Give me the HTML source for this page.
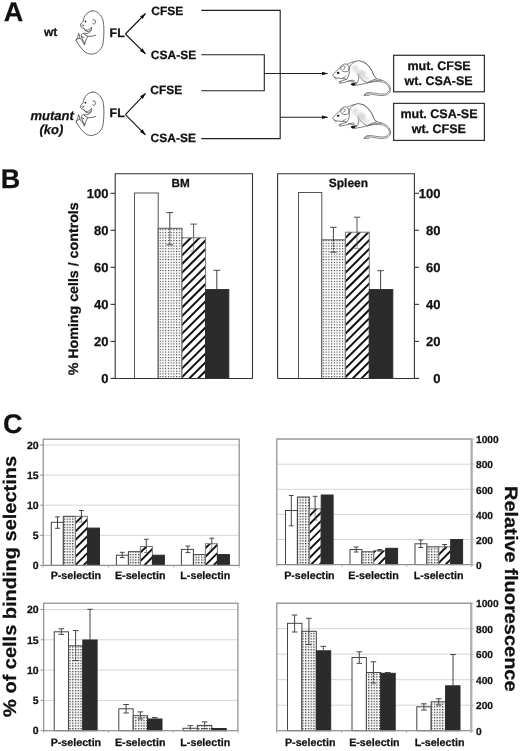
<!DOCTYPE html>
<html><head><meta charset="utf-8"><title>Figure</title>
<style>html,body{margin:0;padding:0;background:#fff;}svg{display:block;filter:grayscale(1);font-family:"Liberation Sans",sans-serif;font-weight:bold;}text{stroke:#111;stroke-width:.25px;text-rendering:geometricPrecision;}</style>
</head><body>
<svg width="520" height="751" viewBox="0 0 520 751" font-family="Liberation Sans, sans-serif" font-weight="bold">
<defs>
<pattern id="dotB" x="159.7" y="229.15" width="2.72" height="2.72" patternUnits="userSpaceOnUse"><rect width="2.72" height="2.72" fill="#fff"/><rect x="0" y="0" width="1.15" height="1.15" fill="#3a3a3a"/></pattern>
<pattern id="dotC" x="63.95" y="518.55" width="2.74" height="2.72" patternUnits="userSpaceOnUse"><rect width="2.74" height="2.72" fill="#fff"/><rect x="0" y="0" width="1.3" height="1.3" fill="#303030"/></pattern>
<marker id="ah" markerWidth="8" markerHeight="6" refX="6" refY="3" orient="auto" markerUnits="userSpaceOnUse"><path d="M0,1.1 L6.5,3 L0,4.9 Z" fill="#111"/></marker>
<filter id="bl" x="-50%" y="-50%" width="200%" height="200%"><feGaussianBlur stdDeviation="9"/></filter>
</defs>
<rect width="520" height="751" fill="#fff"/>
<text x="3.7" y="20.9" font-size="27" text-anchor="start" fill="#111" >A</text>
<text x="0.7" y="187.8" font-size="27" text-anchor="start" fill="#111" >B</text>
<text x="2.9" y="432.7" font-size="27" text-anchor="start" fill="#111" >C</text>
<text x="44" y="36" font-size="12" text-anchor="start" fill="#111" >wt</text>
<text x="30.4" y="120.2" font-size="13" text-anchor="start" fill="#111" font-style="italic">mutant</text>
<text x="39.4" y="134.1" font-size="13" text-anchor="start" fill="#111" font-style="italic">(ko)</text>
<text x="109.6" y="37.0" font-size="12.4" text-anchor="start" fill="#111" >FL</text>
<text x="151.3" y="15.2" font-size="12" text-anchor="start" fill="#111" >CFSE</text>
<text x="150.8" y="58.8" font-size="12" text-anchor="start" fill="#111" >CSA-SE</text>
<line x1="125.4" y1="34.0" x2="145.5" y2="13.5" stroke="#111" stroke-width="1.1" marker-end="url(#ah)"/>
<line x1="125.4" y1="34.0" x2="145.5" y2="53.8" stroke="#111" stroke-width="1.1" marker-end="url(#ah)"/>
<text x="109.6" y="116.8" font-size="12.4" text-anchor="start" fill="#111" >FL</text>
<text x="150.3" y="94.1" font-size="12" text-anchor="start" fill="#111" >CFSE</text>
<text x="150.6" y="141.5" font-size="12" text-anchor="start" fill="#111" >CSA-SE</text>
<line x1="125.4" y1="114.6" x2="145.5" y2="93.3" stroke="#111" stroke-width="1.1" marker-end="url(#ah)"/>
<line x1="125.4" y1="114.6" x2="145.5" y2="134.9" stroke="#111" stroke-width="1.1" marker-end="url(#ah)"/>
<g fill="none" stroke="#222" stroke-width="1.1">
<path d="M201.3,10.4 H280.2 V138.6 H201.3"/>
<path d="M201.3,54.8 H264.3 V90.7 H201.3"/>
</g>
<line x1="264.3" y1="73.5" x2="327.5" y2="73.5" stroke="#222" stroke-width="1.1" marker-end="url(#ah)"/>
<line x1="280.2" y1="117.3" x2="327.5" y2="117.3" stroke="#222" stroke-width="1.1" marker-end="url(#ah)"/>
<rect x="393.6" y="55.3" width="90.8" height="36.5" fill="#fff" stroke="#333" stroke-width="1.25"/>
<rect x="393.6" y="103.4" width="90.8" height="37.0" fill="#fff" stroke="#333" stroke-width="1.25"/>
<text x="439" y="69.8" font-size="12.5" text-anchor="middle" fill="#111" >mut. CFSE</text>
<text x="438.6" y="84.8" font-size="12.5" text-anchor="middle" fill="#111" >wt. CSA-SE</text>
<text x="439" y="117.7" font-size="12.5" text-anchor="middle" fill="#111" >mut. CSA-SE</text>
<text x="438.8" y="132.5" font-size="12.5" text-anchor="middle" fill="#111" >wt. CFSE</text>
<g transform="translate(70,5) scale(0.0769)" fill="none" stroke="#3a3a3a" stroke-width="10" stroke-linecap="round" stroke-linejoin="round">
<path d="M290,75 C345,72 400,115 428,195 C445,260 445,400 428,510 C410,585 345,640 270,640 C215,635 175,602 136,548 C112,514 92,488 80,465"/>
<path d="M290,75 C240,80 200,120 182,165 C175,190 172,205 170,218 C155,228 138,240 135,262 C135,285 155,300 178,300 C182,312 192,322 205,326 C235,332 265,315 282,288"/>
<path d="M182,308 C195,335 215,348 242,346 C262,342 275,328 282,300"/>
<ellipse cx="201" cy="214" rx="11" ry="13" fill="#222" stroke="none"/>
<ellipse cx="166" cy="266" rx="12" ry="10" stroke-width="7"/>
<path d="M298,192 C318,185 336,200 332,225 C328,245 310,255 296,242"/>
<path d="M276,325 C268,345 255,358 238,366 C225,372 205,372 185,366"/>
<path d="M335,392 C300,405 265,412 232,406 C212,400 195,388 178,372 C165,368 150,378 148,392 C148,408 160,418 178,420"/>
<path d="M112,368 C108,395 100,425 82,452 C100,440 115,432 128,432 C150,445 170,480 188,520 C195,490 205,450 230,410"/>
<path d="M122,385 C126,400 128,415 128,432"/>
<path d="M150,410 C158,440 170,468 190,498"/>
<path d="M82,452 C82,458 80,462 80,465"/>
</g>
<g transform="translate(70,86.3) scale(0.0769)" fill="none" stroke="#3a3a3a" stroke-width="10" stroke-linecap="round" stroke-linejoin="round">
<path d="M290,75 C345,72 400,115 428,195 C445,260 445,400 428,510 C410,585 345,640 270,640 C215,635 175,602 136,548 C112,514 92,488 80,465"/>
<path d="M290,75 C240,80 200,120 182,165 C175,190 172,205 170,218 C155,228 138,240 135,262 C135,285 155,300 178,300 C182,312 192,322 205,326 C235,332 265,315 282,288"/>
<path d="M182,308 C195,335 215,348 242,346 C262,342 275,328 282,300"/>
<ellipse cx="201" cy="214" rx="11" ry="13" fill="#222" stroke="none"/>
<ellipse cx="166" cy="266" rx="12" ry="10" stroke-width="7"/>
<path d="M298,192 C318,185 336,200 332,225 C328,245 310,255 296,242"/>
<path d="M276,325 C268,345 255,358 238,366 C225,372 205,372 185,366"/>
<path d="M335,392 C300,405 265,412 232,406 C212,400 195,388 178,372 C165,368 150,378 148,392 C148,408 160,418 178,420"/>
<path d="M112,368 C108,395 100,425 82,452 C100,440 115,432 128,432 C150,445 170,480 188,520 C195,490 205,450 230,410"/>
<path d="M122,385 C126,400 128,415 128,432"/>
<path d="M150,410 C158,440 170,468 190,498"/>
<path d="M82,452 C82,458 80,462 80,465"/>
</g>
<g transform="translate(328,55) scale(0.1269)" fill="none" stroke="#444" stroke-width="5.5" stroke-linecap="round" stroke-linejoin="round">

<path d="M150,75 C185,52 240,40 285,56 C325,78 348,125 362,162 C370,180 385,190 420,198 C460,208 490,235 494,270 C494,300 470,318 430,320 C390,322 350,306 318,306 C300,307 290,312 284,318 C295,320 310,318 325,318" fill="none" stroke-width="5"/>
<path d="M420,198 C370,200 335,210 310,220 C345,210 390,206 425,212 C460,220 482,245 484,270 C484,292 465,306 430,308 C395,308 350,296 318,296 C300,298 290,306 284,318" fill="none" stroke-width="5"/>
<path d="M38,158 C48,142 66,124 86,110 C92,104 96,98 100,95 C104,80 122,66 146,72 C160,78 168,96 166,118 C168,90 180,60 232,46 C280,44 322,82 346,126 C356,150 362,172 384,188 C350,196 325,210 310,220 C285,228 255,232 232,236 C220,242 205,240 188,234 C196,226 210,222 228,222 C205,212 180,204 160,206 C140,214 115,222 92,222 C84,218 86,210 96,208 C112,204 130,198 148,190 C120,186 95,184 78,182 C62,182 48,176 42,168 Z" fill="#fff"/>
<path d="M110,92 C122,80 136,86 134,100 C132,110 126,114 120,112"/>
<path d="M100,95 C98,110 106,124 120,130 C136,134 150,132 160,124"/>
<path d="M166,118 C172,140 166,165 150,188"/>
<path d="M140,165 C136,172 128,178 118,180"/>
<path d="M228,222 C242,205 246,185 238,150"/>
<path d="M238,150 C250,180 275,205 308,218"/>
<path d="M160,206 C175,200 190,198 205,200"/>
<ellipse cx="80" cy="141" rx="10" ry="8.5" fill="#111" stroke="none"/>
<path d="M184,226 C192,220 206,220 216,228 C212,238 196,242 184,234 Z" fill="#111" stroke="#111"/>
<path d="M88,214 C94,210 100,210 106,214" stroke-width="4"/>
<path d="M48,172 C52,182 54,190 60,196 M58,176 C62,184 66,190 72,194" stroke-width="2.5"/>

<g filter="url(#bl)" stroke="none"><ellipse cx="262" cy="150" rx="36" ry="32" fill="#cfcfcf" opacity="0.8"/><ellipse cx="215" cy="108" rx="26" ry="30" fill="#dcdcdc" opacity="0.8"/><ellipse cx="300" cy="185" rx="28" ry="15" fill="#dcdcdc" opacity="0.8"/></g>
</g>
<g transform="translate(328,97.9) scale(0.1269)" fill="none" stroke="#444" stroke-width="5.5" stroke-linecap="round" stroke-linejoin="round">

<path d="M150,75 C185,52 240,40 285,56 C325,78 348,125 362,162 C370,180 385,190 420,198 C460,208 490,235 494,270 C494,300 470,318 430,320 C390,322 350,306 318,306 C300,307 290,312 284,318 C295,320 310,318 325,318" fill="none" stroke-width="5"/>
<path d="M420,198 C370,200 335,210 310,220 C345,210 390,206 425,212 C460,220 482,245 484,270 C484,292 465,306 430,308 C395,308 350,296 318,296 C300,298 290,306 284,318" fill="none" stroke-width="5"/>
<path d="M38,158 C48,142 66,124 86,110 C92,104 96,98 100,95 C104,80 122,66 146,72 C160,78 168,96 166,118 C168,90 180,60 232,46 C280,44 322,82 346,126 C356,150 362,172 384,188 C350,196 325,210 310,220 C285,228 255,232 232,236 C220,242 205,240 188,234 C196,226 210,222 228,222 C205,212 180,204 160,206 C140,214 115,222 92,222 C84,218 86,210 96,208 C112,204 130,198 148,190 C120,186 95,184 78,182 C62,182 48,176 42,168 Z" fill="#fff"/>
<path d="M110,92 C122,80 136,86 134,100 C132,110 126,114 120,112"/>
<path d="M100,95 C98,110 106,124 120,130 C136,134 150,132 160,124"/>
<path d="M166,118 C172,140 166,165 150,188"/>
<path d="M140,165 C136,172 128,178 118,180"/>
<path d="M228,222 C242,205 246,185 238,150"/>
<path d="M238,150 C250,180 275,205 308,218"/>
<path d="M160,206 C175,200 190,198 205,200"/>
<ellipse cx="80" cy="141" rx="10" ry="8.5" fill="#111" stroke="none"/>
<path d="M184,226 C192,220 206,220 216,228 C212,238 196,242 184,234 Z" fill="#111" stroke="#111"/>
<path d="M88,214 C94,210 100,210 106,214" stroke-width="4"/>
<path d="M48,172 C52,182 54,190 60,196 M58,176 C62,184 66,190 72,194" stroke-width="2.5"/>

<g filter="url(#bl)" stroke="none"><ellipse cx="262" cy="150" rx="36" ry="32" fill="#cfcfcf" opacity="0.8"/><ellipse cx="215" cy="108" rx="26" ry="30" fill="#dcdcdc" opacity="0.8"/><ellipse cx="300" cy="185" rx="28" ry="15" fill="#dcdcdc" opacity="0.8"/></g>
</g>
<path d="M115.2,378.5 V173.7 H252.5 V378.5" fill="none" stroke="#333" stroke-width="1.1"/>
<rect x="134.5" y="193.0" width="23.69999999999999" height="185.5" fill="#fff" stroke="#555" stroke-width="1"/>
<rect x="158.2" y="228.3" width="23.80000000000001" height="150.2" fill="url(#dotB)" stroke="#555" stroke-width="1"/>
<rect x="182.0" y="237.8" width="23.599999999999994" height="140.7" fill="#fff"/>
<clipPath id="hc1"><rect x="182.0" y="237.8" width="23.599999999999994" height="140.7"/></clipPath>
<g clip-path="url(#hc1)" stroke="#111" stroke-width="2.0">
<line x1="179.00" y1="232.20" x2="208.60" y2="202.60"/>
<line x1="179.00" y1="240.90" x2="208.60" y2="211.30"/>
<line x1="179.00" y1="249.60" x2="208.60" y2="220.00"/>
<line x1="179.00" y1="258.30" x2="208.60" y2="228.70"/>
<line x1="179.00" y1="267.00" x2="208.60" y2="237.40"/>
<line x1="179.00" y1="275.70" x2="208.60" y2="246.10"/>
<line x1="179.00" y1="284.40" x2="208.60" y2="254.80"/>
<line x1="179.00" y1="293.10" x2="208.60" y2="263.50"/>
<line x1="179.00" y1="301.80" x2="208.60" y2="272.20"/>
<line x1="179.00" y1="310.50" x2="208.60" y2="280.90"/>
<line x1="179.00" y1="319.20" x2="208.60" y2="289.60"/>
<line x1="179.00" y1="327.90" x2="208.60" y2="298.30"/>
<line x1="179.00" y1="336.60" x2="208.60" y2="307.00"/>
<line x1="179.00" y1="345.30" x2="208.60" y2="315.70"/>
<line x1="179.00" y1="354.00" x2="208.60" y2="324.40"/>
<line x1="179.00" y1="362.70" x2="208.60" y2="333.10"/>
<line x1="179.00" y1="371.40" x2="208.60" y2="341.80"/>
<line x1="179.00" y1="380.10" x2="208.60" y2="350.50"/>
<line x1="179.00" y1="388.80" x2="208.60" y2="359.20"/>
<line x1="179.00" y1="397.50" x2="208.60" y2="367.90"/>
<line x1="179.00" y1="406.20" x2="208.60" y2="376.60"/>
</g>
<rect x="182.0" y="237.8" width="23.599999999999994" height="140.7" fill="none" stroke="#777" stroke-width="1"/>
<rect x="205.6" y="289.6" width="23.200000000000017" height="88.89999999999998" fill="#2b2b2b" stroke="#2b2b2b" stroke-width="1"/>
<g stroke="#444" stroke-width="1.0" opacity="1"><line x1="169.8" y1="212.6" x2="169.8" y2="228.3"/><g opacity="1"><line x1="169.8" y1="228.3" x2="169.8" y2="244.8" stroke-dasharray="2 0.7"/><line x1="166.5" y1="244.8" x2="173.10000000000002" y2="244.8"/></g><line x1="166.5" y1="212.6" x2="173.10000000000002" y2="212.6"/></g>
<g stroke="#555" stroke-width="1.0" opacity="1"><line x1="193.6" y1="224.1" x2="193.6" y2="237.8"/><g opacity="0.6"><line x1="193.6" y1="237.8" x2="193.6" y2="251"/><line x1="190.29999999999998" y1="251" x2="196.9" y2="251"/></g><line x1="190.29999999999998" y1="224.1" x2="196.9" y2="224.1"/></g>
<g stroke="#444" stroke-width="1.0" opacity="1"><line x1="216.8" y1="270.3" x2="216.8" y2="290"/><line x1="213.5" y1="270.3" x2="220.10000000000002" y2="270.3"/></g>
<line x1="111.7" y1="378.5" x2="252.5" y2="378.5" stroke="#333" stroke-width="1.2" />
<text x="180.7" y="187.2" font-size="11.7" text-anchor="middle" fill="#111" >BM</text>
<line x1="110.60000000000001" y1="193.3" x2="115.2" y2="193.3" stroke="#333" stroke-width="1.1" />
<text x="108.4" y="197.55" font-size="13" text-anchor="end" fill="#111" >100</text>
<line x1="110.60000000000001" y1="230.32000000000002" x2="115.2" y2="230.32000000000002" stroke="#333" stroke-width="1.1" />
<text x="108.4" y="234.57000000000002" font-size="13" text-anchor="end" fill="#111" >80</text>
<line x1="110.60000000000001" y1="267.34000000000003" x2="115.2" y2="267.34000000000003" stroke="#333" stroke-width="1.1" />
<text x="108.4" y="271.59000000000003" font-size="13" text-anchor="end" fill="#111" >60</text>
<line x1="110.60000000000001" y1="304.36" x2="115.2" y2="304.36" stroke="#333" stroke-width="1.1" />
<text x="108.4" y="308.61" font-size="13" text-anchor="end" fill="#111" >40</text>
<line x1="110.60000000000001" y1="341.38" x2="115.2" y2="341.38" stroke="#333" stroke-width="1.1" />
<text x="108.4" y="345.63" font-size="13" text-anchor="end" fill="#111" >20</text>
<line x1="110.60000000000001" y1="378.40000000000003" x2="115.2" y2="378.40000000000003" stroke="#333" stroke-width="1.1" />
<text x="108.4" y="382.65000000000003" font-size="13" text-anchor="end" fill="#111" >0</text>
<path d="M277.6,378.5 V173.7 H414.4 V378.5" fill="none" stroke="#333" stroke-width="1.1"/>
<rect x="298.5" y="192.5" width="23.30000000000001" height="186.0" fill="#fff" stroke="#555" stroke-width="1"/>
<rect x="321.8" y="239.8" width="23.599999999999966" height="138.7" fill="url(#dotB)" stroke="#555" stroke-width="1"/>
<rect x="345.4" y="232.2" width="23.900000000000034" height="146.3" fill="#fff"/>
<clipPath id="hc2"><rect x="345.4" y="232.2" width="23.900000000000034" height="146.3"/></clipPath>
<g clip-path="url(#hc2)" stroke="#111" stroke-width="2.0">
<line x1="342.40" y1="223.50" x2="372.30" y2="193.60"/>
<line x1="342.40" y1="232.20" x2="372.30" y2="202.30"/>
<line x1="342.40" y1="240.90" x2="372.30" y2="211.00"/>
<line x1="342.40" y1="249.60" x2="372.30" y2="219.70"/>
<line x1="342.40" y1="258.30" x2="372.30" y2="228.40"/>
<line x1="342.40" y1="267.00" x2="372.30" y2="237.10"/>
<line x1="342.40" y1="275.70" x2="372.30" y2="245.80"/>
<line x1="342.40" y1="284.40" x2="372.30" y2="254.50"/>
<line x1="342.40" y1="293.10" x2="372.30" y2="263.20"/>
<line x1="342.40" y1="301.80" x2="372.30" y2="271.90"/>
<line x1="342.40" y1="310.50" x2="372.30" y2="280.60"/>
<line x1="342.40" y1="319.20" x2="372.30" y2="289.30"/>
<line x1="342.40" y1="327.90" x2="372.30" y2="298.00"/>
<line x1="342.40" y1="336.60" x2="372.30" y2="306.70"/>
<line x1="342.40" y1="345.30" x2="372.30" y2="315.40"/>
<line x1="342.40" y1="354.00" x2="372.30" y2="324.10"/>
<line x1="342.40" y1="362.70" x2="372.30" y2="332.80"/>
<line x1="342.40" y1="371.40" x2="372.30" y2="341.50"/>
<line x1="342.40" y1="380.10" x2="372.30" y2="350.20"/>
<line x1="342.40" y1="388.80" x2="372.30" y2="358.90"/>
<line x1="342.40" y1="397.50" x2="372.30" y2="367.60"/>
<line x1="342.40" y1="406.20" x2="372.30" y2="376.30"/>
</g>
<rect x="345.4" y="232.2" width="23.900000000000034" height="146.3" fill="none" stroke="#777" stroke-width="1"/>
<rect x="369.3" y="289.6" width="23.5" height="88.89999999999998" fill="#2b2b2b" stroke="#2b2b2b" stroke-width="1"/>
<g stroke="#444" stroke-width="1.0" opacity="1"><line x1="333.4" y1="227.3" x2="333.4" y2="239.8"/><g opacity="1"><line x1="333.4" y1="239.8" x2="333.4" y2="252.2" stroke-dasharray="2 0.7"/><line x1="330.2" y1="252.2" x2="336.59999999999997" y2="252.2"/></g><line x1="330.2" y1="227.3" x2="336.59999999999997" y2="227.3"/></g>
<g stroke="#555" stroke-width="1.0" opacity="1"><line x1="357.0" y1="217.2" x2="357.0" y2="232.2"/><g opacity="0.6"><line x1="357.0" y1="232.2" x2="357.0" y2="248.4"/><line x1="353.8" y1="248.4" x2="360.2" y2="248.4"/></g><line x1="353.8" y1="217.2" x2="360.2" y2="217.2"/></g>
<g stroke="#444" stroke-width="1.0" opacity="1"><line x1="380.6" y1="270.7" x2="380.6" y2="290"/><line x1="377.40000000000003" y1="270.7" x2="383.8" y2="270.7"/></g>
<line x1="277.6" y1="378.5" x2="418.9" y2="378.5" stroke="#333" stroke-width="1.2" />
<text x="348.4" y="186.6" font-size="12" text-anchor="middle" fill="#111" >Spleen</text>
<line x1="414.4" y1="193.3" x2="419.0" y2="193.3" stroke="#333" stroke-width="1.1" />
<text x="440.5" y="197.55" font-size="13" text-anchor="end" fill="#111" >100</text>
<line x1="414.4" y1="230.32000000000002" x2="419.0" y2="230.32000000000002" stroke="#333" stroke-width="1.1" />
<text x="440.5" y="234.57000000000002" font-size="13" text-anchor="end" fill="#111" >80</text>
<line x1="414.4" y1="267.34000000000003" x2="419.0" y2="267.34000000000003" stroke="#333" stroke-width="1.1" />
<text x="440.5" y="271.59000000000003" font-size="13" text-anchor="end" fill="#111" >60</text>
<line x1="414.4" y1="304.36" x2="419.0" y2="304.36" stroke="#333" stroke-width="1.1" />
<text x="440.5" y="308.61" font-size="13" text-anchor="end" fill="#111" >40</text>
<line x1="414.4" y1="341.38" x2="419.0" y2="341.38" stroke="#333" stroke-width="1.1" />
<text x="440.5" y="345.63" font-size="13" text-anchor="end" fill="#111" >20</text>
<line x1="414.4" y1="378.40000000000003" x2="419.0" y2="378.40000000000003" stroke="#333" stroke-width="1.1" />
<text x="440.5" y="382.65000000000003" font-size="13" text-anchor="end" fill="#111" >0</text>
<text transform="translate(78.0,375.3) rotate(-90)" font-size="13.7" textLength="173" lengthAdjust="spacingAndGlyphs" fill="#111">% Homing cells / controls</text>
<line x1="43.2" y1="535.3" x2="239.2" y2="535.3" stroke="#d6d6d6" stroke-width="1" />
<line x1="43.2" y1="505.2" x2="239.2" y2="505.2" stroke="#d6d6d6" stroke-width="1" />
<line x1="43.2" y1="475.09999999999997" x2="239.2" y2="475.09999999999997" stroke="#d6d6d6" stroke-width="1" />
<line x1="43.2" y1="445.0" x2="239.2" y2="445.0" stroke="#d6d6d6" stroke-width="1" />
<rect x="51.3" y="522.3" width="12.049999999999997" height="43.10000000000002" fill="#fff" stroke="#444" stroke-width="1"/>
<rect x="63.349999999999994" y="516.3" width="12.050000000000011" height="49.10000000000002" fill="url(#dotC)" stroke="#444" stroke-width="1"/>
<rect x="75.4" y="516.3" width="12.049999999999997" height="49.10000000000002" fill="#fff"/>
<clipPath id="hc3"><rect x="75.4" y="516.3" width="12.049999999999997" height="49.10000000000002"/></clipPath>
<g clip-path="url(#hc3)" stroke="#111" stroke-width="1.9">
<line x1="72.40" y1="509.30" x2="90.45" y2="491.25"/>
<line x1="72.40" y1="517.70" x2="90.45" y2="499.65"/>
<line x1="72.40" y1="526.10" x2="90.45" y2="508.05"/>
<line x1="72.40" y1="534.50" x2="90.45" y2="516.45"/>
<line x1="72.40" y1="542.90" x2="90.45" y2="524.85"/>
<line x1="72.40" y1="551.30" x2="90.45" y2="533.25"/>
<line x1="72.40" y1="559.70" x2="90.45" y2="541.65"/>
<line x1="72.40" y1="568.10" x2="90.45" y2="550.05"/>
<line x1="72.40" y1="576.50" x2="90.45" y2="558.45"/>
<line x1="72.40" y1="584.90" x2="90.45" y2="566.85"/>
</g>
<rect x="75.4" y="516.3" width="12.049999999999997" height="49.10000000000002" fill="none" stroke="#777" stroke-width="1"/>
<rect x="87.45" y="528.1" width="12.049999999999997" height="37.299999999999955" fill="#2b2b2b" stroke="#2b2b2b" stroke-width="1"/>
<g stroke="#444" stroke-width="1.0" opacity="1"><line x1="57.5" y1="516.9" x2="57.5" y2="528.3"/><line x1="55.1" y1="528.3" x2="59.9" y2="528.3"/><line x1="55.1" y1="516.9" x2="59.9" y2="516.9"/></g>
<g stroke="#444" stroke-width="1.0" opacity="1"><line x1="81.4" y1="510.5" x2="81.4" y2="516.3"/><g opacity="0.6"><line x1="81.4" y1="516.3" x2="81.4" y2="522"/><line x1="79.0" y1="522" x2="83.80000000000001" y2="522"/></g><line x1="79.0" y1="510.5" x2="83.80000000000001" y2="510.5"/></g>
<rect x="116.4" y="555.2" width="12.0" height="10.199999999999932" fill="#fff" stroke="#444" stroke-width="1"/>
<rect x="128.4" y="551.7" width="12.0" height="13.699999999999932" fill="url(#dotC)" stroke="#444" stroke-width="1"/>
<rect x="140.4" y="546.5" width="12.0" height="18.899999999999977" fill="#fff"/>
<clipPath id="hc4"><rect x="140.4" y="546.5" width="12.0" height="18.899999999999977"/></clipPath>
<g clip-path="url(#hc4)" stroke="#111" stroke-width="1.9">
<line x1="137.40" y1="538.70" x2="155.40" y2="520.70"/>
<line x1="137.40" y1="547.10" x2="155.40" y2="529.10"/>
<line x1="137.40" y1="555.50" x2="155.40" y2="537.50"/>
<line x1="137.40" y1="563.90" x2="155.40" y2="545.90"/>
<line x1="137.40" y1="572.30" x2="155.40" y2="554.30"/>
<line x1="137.40" y1="580.70" x2="155.40" y2="562.70"/>
</g>
<rect x="140.4" y="546.5" width="12.0" height="18.899999999999977" fill="none" stroke="#777" stroke-width="1"/>
<rect x="152.4" y="555.2" width="12.0" height="10.199999999999932" fill="#2b2b2b" stroke="#2b2b2b" stroke-width="1"/>
<g stroke="#444" stroke-width="1.0" opacity="1"><line x1="122.3" y1="552.3" x2="122.3" y2="557.6"/><line x1="119.89999999999999" y1="557.6" x2="124.7" y2="557.6"/><line x1="119.89999999999999" y1="552.3" x2="124.7" y2="552.3"/></g>
<g stroke="#444" stroke-width="1.0" opacity="1"><line x1="146.3" y1="539.3" x2="146.3" y2="546.5"/><g opacity="0.6"><line x1="146.3" y1="546.5" x2="146.3" y2="552.5"/><line x1="143.9" y1="552.5" x2="148.70000000000002" y2="552.5"/></g><line x1="143.9" y1="539.3" x2="148.70000000000002" y2="539.3"/></g>
<rect x="181.4" y="549.4" width="12.0" height="16.0" fill="#fff" stroke="#444" stroke-width="1"/>
<rect x="193.4" y="554.6" width="12.0" height="10.799999999999955" fill="url(#dotC)" stroke="#444" stroke-width="1"/>
<rect x="205.4" y="543.7" width="12.0" height="21.699999999999932" fill="#fff"/>
<clipPath id="hc5"><rect x="205.4" y="543.7" width="12.0" height="21.699999999999932"/></clipPath>
<g clip-path="url(#hc5)" stroke="#111" stroke-width="1.9">
<line x1="202.40" y1="534.50" x2="220.40" y2="516.50"/>
<line x1="202.40" y1="542.90" x2="220.40" y2="524.90"/>
<line x1="202.40" y1="551.30" x2="220.40" y2="533.30"/>
<line x1="202.40" y1="559.70" x2="220.40" y2="541.70"/>
<line x1="202.40" y1="568.10" x2="220.40" y2="550.10"/>
<line x1="202.40" y1="576.50" x2="220.40" y2="558.50"/>
<line x1="202.40" y1="584.90" x2="220.40" y2="566.90"/>
</g>
<rect x="205.4" y="543.7" width="12.0" height="21.699999999999932" fill="none" stroke="#777" stroke-width="1"/>
<rect x="217.4" y="554.6" width="12.0" height="10.799999999999955" fill="#2b2b2b" stroke="#2b2b2b" stroke-width="1"/>
<g stroke="#444" stroke-width="1.0" opacity="1"><line x1="187.8" y1="546.0" x2="187.8" y2="552.6"/><line x1="185.4" y1="552.6" x2="190.20000000000002" y2="552.6"/><line x1="185.4" y1="546.0" x2="190.20000000000002" y2="546.0"/></g>
<g stroke="#444" stroke-width="1.0" opacity="1"><line x1="211.8" y1="538.2" x2="211.8" y2="543.7"/><g opacity="0.6"><line x1="211.8" y1="543.7" x2="211.8" y2="549"/><line x1="209.4" y1="549" x2="214.20000000000002" y2="549"/></g><line x1="209.4" y1="538.2" x2="214.20000000000002" y2="538.2"/></g>
<rect x="43.2" y="439.2" width="196.0" height="126.19999999999999" fill="none" stroke="#8c8c8c" stroke-width="1.2"/>
<line x1="43.2" y1="565.4" x2="43.2" y2="567.8" stroke="#b5b5b5" stroke-width="1" />
<line x1="108.53333333333333" y1="565.4" x2="108.53333333333333" y2="567.8" stroke="#b5b5b5" stroke-width="1" />
<line x1="173.86666666666667" y1="565.4" x2="173.86666666666667" y2="567.8" stroke="#b5b5b5" stroke-width="1" />
<line x1="239.2" y1="565.4" x2="239.2" y2="567.8" stroke="#b5b5b5" stroke-width="1" />
<line x1="40.2" y1="565.4" x2="43.2" y2="565.4" stroke="#8c8c8c" stroke-width="1" />
<text x="38.6" y="569.1" font-size="10.5" text-anchor="end" fill="#111" >0</text>
<line x1="40.2" y1="535.3" x2="43.2" y2="535.3" stroke="#8c8c8c" stroke-width="1" />
<text x="38.6" y="539.0" font-size="10.5" text-anchor="end" fill="#111" >5</text>
<line x1="40.2" y1="505.2" x2="43.2" y2="505.2" stroke="#8c8c8c" stroke-width="1" />
<text x="38.6" y="508.9" font-size="10.5" text-anchor="end" fill="#111" >10</text>
<line x1="40.2" y1="475.09999999999997" x2="43.2" y2="475.09999999999997" stroke="#8c8c8c" stroke-width="1" />
<text x="38.6" y="478.79999999999995" font-size="10.5" text-anchor="end" fill="#111" >15</text>
<line x1="40.2" y1="445.0" x2="43.2" y2="445.0" stroke="#8c8c8c" stroke-width="1" />
<text x="38.6" y="448.7" font-size="10.5" text-anchor="end" fill="#111" >20</text>
<text x="75.9" y="578.8" font-size="10.7" text-anchor="middle" fill="#111" >P-selectin</text>
<text x="140.2" y="578.8" font-size="10.7" text-anchor="middle" fill="#111" >E-selectin</text>
<text x="205.3" y="578.8" font-size="10.7" text-anchor="middle" fill="#111" >L-selectin</text>
<line x1="276.8" y1="539.5" x2="471.6" y2="539.5" stroke="#d6d6d6" stroke-width="1" />
<line x1="276.8" y1="514.4" x2="471.6" y2="514.4" stroke="#d6d6d6" stroke-width="1" />
<line x1="276.8" y1="489.3" x2="471.6" y2="489.3" stroke="#d6d6d6" stroke-width="1" />
<line x1="276.8" y1="464.20000000000005" x2="471.6" y2="464.20000000000005" stroke="#d6d6d6" stroke-width="1" />
<line x1="276.8" y1="439.1" x2="471.6" y2="439.1" stroke="#d6d6d6" stroke-width="1" />
<rect x="285.5" y="510.5" width="11.899999999999977" height="54.10000000000002" fill="#fff" stroke="#444" stroke-width="1"/>
<rect x="297.4" y="497.0" width="11.900000000000034" height="67.60000000000002" fill="url(#dotC)" stroke="#444" stroke-width="1"/>
<rect x="309.3" y="508.8" width="11.899999999999977" height="55.80000000000001" fill="#fff"/>
<clipPath id="hc6"><rect x="309.3" y="508.8" width="11.899999999999977" height="55.80000000000001"/></clipPath>
<g clip-path="url(#hc6)" stroke="#111" stroke-width="1.9">
<line x1="306.30" y1="502.20" x2="324.20" y2="484.30"/>
<line x1="306.30" y1="510.60" x2="324.20" y2="492.70"/>
<line x1="306.30" y1="519.00" x2="324.20" y2="501.10"/>
<line x1="306.30" y1="527.40" x2="324.20" y2="509.50"/>
<line x1="306.30" y1="535.80" x2="324.20" y2="517.90"/>
<line x1="306.30" y1="544.20" x2="324.20" y2="526.30"/>
<line x1="306.30" y1="552.60" x2="324.20" y2="534.70"/>
<line x1="306.30" y1="561.00" x2="324.20" y2="543.10"/>
<line x1="306.30" y1="569.40" x2="324.20" y2="551.50"/>
<line x1="306.30" y1="577.80" x2="324.20" y2="559.90"/>
</g>
<rect x="309.3" y="508.8" width="11.899999999999977" height="55.80000000000001" fill="none" stroke="#777" stroke-width="1"/>
<rect x="321.2" y="495.0" width="11.900000000000034" height="69.60000000000002" fill="#2b2b2b" stroke="#2b2b2b" stroke-width="1"/>
<g stroke="#444" stroke-width="1.0" opacity="1"><line x1="291.3" y1="495.5" x2="291.3" y2="525.8"/><line x1="288.90000000000003" y1="525.8" x2="293.7" y2="525.8"/><line x1="288.90000000000003" y1="495.5" x2="293.7" y2="495.5"/></g>
<g stroke="#444" stroke-width="1.0" opacity="1"><line x1="315.1" y1="496.3" x2="315.1" y2="508.8"/><g opacity="0.6"><line x1="315.1" y1="508.8" x2="315.1" y2="520"/><line x1="312.70000000000005" y1="520" x2="317.5" y2="520"/></g><line x1="312.70000000000005" y1="496.3" x2="317.5" y2="496.3"/></g>
<rect x="350.0" y="549.5" width="11.899999999999977" height="15.100000000000023" fill="#fff" stroke="#444" stroke-width="1"/>
<rect x="361.9" y="551.8" width="11.900000000000034" height="12.800000000000068" fill="url(#dotC)" stroke="#444" stroke-width="1"/>
<rect x="373.8" y="550.5" width="11.899999999999977" height="14.100000000000023" fill="#fff"/>
<clipPath id="hc7"><rect x="373.8" y="550.5" width="11.899999999999977" height="14.100000000000023"/></clipPath>
<g clip-path="url(#hc7)" stroke="#111" stroke-width="1.9">
<line x1="370.80" y1="546.90" x2="388.70" y2="529.00"/>
<line x1="370.80" y1="555.30" x2="388.70" y2="537.40"/>
<line x1="370.80" y1="563.70" x2="388.70" y2="545.80"/>
<line x1="370.80" y1="572.10" x2="388.70" y2="554.20"/>
<line x1="370.80" y1="580.50" x2="388.70" y2="562.60"/>
</g>
<rect x="373.8" y="550.5" width="11.899999999999977" height="14.100000000000023" fill="none" stroke="#777" stroke-width="1"/>
<rect x="385.7" y="548.3" width="11.900000000000034" height="16.300000000000068" fill="#2b2b2b" stroke="#2b2b2b" stroke-width="1"/>
<g stroke="#444" stroke-width="1.0" opacity="1"><line x1="356.2" y1="547.0" x2="356.2" y2="552.0"/><line x1="353.8" y1="552.0" x2="358.59999999999997" y2="552.0"/><line x1="353.8" y1="547.0" x2="358.59999999999997" y2="547.0"/></g>
<g stroke="#444" stroke-width="1.0" opacity="1"><line x1="379.8" y1="549.5" x2="379.8" y2="550.5"/><g opacity="0.6"><line x1="379.8" y1="550.5" x2="379.8" y2="551.5"/><line x1="377.40000000000003" y1="551.5" x2="382.2" y2="551.5"/></g><line x1="377.40000000000003" y1="549.5" x2="382.2" y2="549.5"/></g>
<rect x="415.0" y="543.8" width="11.899999999999977" height="20.800000000000068" fill="#fff" stroke="#444" stroke-width="1"/>
<rect x="426.9" y="546.8" width="11.900000000000034" height="17.800000000000068" fill="url(#dotC)" stroke="#444" stroke-width="1"/>
<rect x="438.8" y="546.8" width="11.899999999999977" height="17.800000000000068" fill="#fff"/>
<clipPath id="hc8"><rect x="438.8" y="546.8" width="11.899999999999977" height="17.800000000000068"/></clipPath>
<g clip-path="url(#hc8)" stroke="#111" stroke-width="1.9">
<line x1="435.80" y1="540.70" x2="453.70" y2="522.80"/>
<line x1="435.80" y1="549.10" x2="453.70" y2="531.20"/>
<line x1="435.80" y1="557.50" x2="453.70" y2="539.60"/>
<line x1="435.80" y1="565.90" x2="453.70" y2="548.00"/>
<line x1="435.80" y1="574.30" x2="453.70" y2="556.40"/>
<line x1="435.80" y1="582.70" x2="453.70" y2="564.80"/>
</g>
<rect x="438.8" y="546.8" width="11.899999999999977" height="17.800000000000068" fill="none" stroke="#777" stroke-width="1"/>
<rect x="450.7" y="539.5" width="11.900000000000034" height="25.100000000000023" fill="#2b2b2b" stroke="#2b2b2b" stroke-width="1"/>
<g stroke="#444" stroke-width="1.0" opacity="1"><line x1="420.8" y1="540.0" x2="420.8" y2="547.5"/><line x1="418.40000000000003" y1="547.5" x2="423.2" y2="547.5"/><line x1="418.40000000000003" y1="540.0" x2="423.2" y2="540.0"/></g>
<g stroke="#444" stroke-width="1.0" opacity="1"><line x1="444.6" y1="544.5" x2="444.6" y2="546.8"/><g opacity="0.6"><line x1="444.6" y1="546.8" x2="444.6" y2="549"/><line x1="442.20000000000005" y1="549" x2="447.0" y2="549"/></g><line x1="442.20000000000005" y1="544.5" x2="447.0" y2="544.5"/></g>
<rect x="276.8" y="439.0" width="194.8" height="125.60000000000002" fill="none" stroke="#8c8c8c" stroke-width="1.2"/>
<line x1="471.6" y1="439.0" x2="471.6" y2="566.1" stroke="#adadad" stroke-width="2.2" />
<line x1="276.8" y1="564.6" x2="276.8" y2="567.0" stroke="#b5b5b5" stroke-width="1" />
<line x1="341.73333333333335" y1="564.6" x2="341.73333333333335" y2="567.0" stroke="#b5b5b5" stroke-width="1" />
<line x1="406.6666666666667" y1="564.6" x2="406.6666666666667" y2="567.0" stroke="#b5b5b5" stroke-width="1" />
<line x1="471.6" y1="564.6" x2="471.6" y2="567.0" stroke="#b5b5b5" stroke-width="1" />
<line x1="471.6" y1="564.6" x2="474.20000000000005" y2="564.6" stroke="#b5b5b5" stroke-width="1" />
<text x="476.0" y="568.8000000000001" font-size="10.2" text-anchor="start" fill="#111" >0</text>
<line x1="471.6" y1="539.5" x2="474.20000000000005" y2="539.5" stroke="#b5b5b5" stroke-width="1" />
<text x="476.0" y="543.7" font-size="10.2" text-anchor="start" fill="#111" >200</text>
<line x1="471.6" y1="514.4" x2="474.20000000000005" y2="514.4" stroke="#b5b5b5" stroke-width="1" />
<text x="476.0" y="518.6" font-size="10.2" text-anchor="start" fill="#111" >400</text>
<line x1="471.6" y1="489.3" x2="474.20000000000005" y2="489.3" stroke="#b5b5b5" stroke-width="1" />
<text x="476.0" y="493.5" font-size="10.2" text-anchor="start" fill="#111" >600</text>
<line x1="471.6" y1="464.20000000000005" x2="474.20000000000005" y2="464.20000000000005" stroke="#b5b5b5" stroke-width="1" />
<text x="476.0" y="468.40000000000003" font-size="10.2" text-anchor="start" fill="#111" >800</text>
<line x1="471.6" y1="439.1" x2="474.20000000000005" y2="439.1" stroke="#b5b5b5" stroke-width="1" />
<text x="476.0" y="443.3" font-size="10.2" text-anchor="start" fill="#111" >1000</text>
<text x="309.4" y="578.8" font-size="10.7" text-anchor="middle" fill="#111" >P-selectin</text>
<text x="373.6" y="578.8" font-size="10.7" text-anchor="middle" fill="#111" >E-selectin</text>
<text x="438.6" y="578.8" font-size="10.7" text-anchor="middle" fill="#111" >L-selectin</text>
<line x1="43.7" y1="700.4000000000001" x2="237.9" y2="700.4000000000001" stroke="#d6d6d6" stroke-width="1" />
<line x1="43.7" y1="670.1" x2="237.9" y2="670.1" stroke="#d6d6d6" stroke-width="1" />
<line x1="43.7" y1="639.8000000000001" x2="237.9" y2="639.8000000000001" stroke="#d6d6d6" stroke-width="1" />
<line x1="43.7" y1="609.5" x2="237.9" y2="609.5" stroke="#d6d6d6" stroke-width="1" />
<rect x="54.2" y="631.8" width="14.299999999999997" height="98.90000000000009" fill="#fff" stroke="#444" stroke-width="1"/>
<rect x="68.5" y="645.8" width="14.300000000000011" height="84.90000000000009" fill="url(#dotC)" stroke="#444" stroke-width="1"/>
<rect x="82.80000000000001" y="640.0" width="14.299999999999997" height="90.70000000000005" fill="#2b2b2b" stroke="#2b2b2b" stroke-width="1"/>
<g stroke="#444" stroke-width="1.0" opacity="1"><line x1="61.3" y1="628.8" x2="61.3" y2="634.3"/><line x1="58.5" y1="634.3" x2="64.1" y2="634.3"/><line x1="58.5" y1="628.8" x2="64.1" y2="628.8"/></g>
<g stroke="#444" stroke-width="1.0" opacity="1"><line x1="75.6" y1="630.5" x2="75.6" y2="645.8"/><g opacity="1"><line x1="75.6" y1="645.8" x2="75.6" y2="660.5" stroke-dasharray="2 0.7"/><line x1="72.8" y1="660.5" x2="78.39999999999999" y2="660.5"/></g><line x1="72.8" y1="630.5" x2="78.39999999999999" y2="630.5"/></g>
<g stroke="#444" stroke-width="1.0" opacity="1"><line x1="90.0" y1="609.3" x2="90.0" y2="640.5"/><line x1="87.2" y1="609.3" x2="92.8" y2="609.3"/></g>
<rect x="118.8" y="708.8" width="14.399999999999991" height="21.90000000000009" fill="#fff" stroke="#444" stroke-width="1"/>
<rect x="133.2" y="715.7" width="14.400000000000006" height="15.0" fill="url(#dotC)" stroke="#444" stroke-width="1"/>
<rect x="147.6" y="719.0" width="14.400000000000006" height="11.700000000000045" fill="#2b2b2b" stroke="#2b2b2b" stroke-width="1"/>
<g stroke="#444" stroke-width="1.0" opacity="1"><line x1="126.1" y1="704.5" x2="126.1" y2="713.0"/><line x1="123.3" y1="713.0" x2="128.9" y2="713.0"/><line x1="123.3" y1="704.5" x2="128.9" y2="704.5"/></g>
<g stroke="#444" stroke-width="1.0" opacity="1"><line x1="140.4" y1="711.9" x2="140.4" y2="715.7"/><g opacity="1"><line x1="140.4" y1="715.7" x2="140.4" y2="719.0" stroke-dasharray="2 0.7"/><line x1="137.6" y1="719.0" x2="143.20000000000002" y2="719.0"/></g><line x1="137.6" y1="711.9" x2="143.20000000000002" y2="711.9"/></g>
<g stroke="#444" stroke-width="1.0" opacity="1"><line x1="154.8" y1="717.6" x2="154.8" y2="719.5"/><line x1="152.0" y1="717.6" x2="157.60000000000002" y2="717.6"/></g>
<rect x="183.0" y="728.3" width="14.400000000000006" height="2.400000000000091" fill="#fff" stroke="#444" stroke-width="1"/>
<rect x="197.4" y="725.4" width="14.400000000000006" height="5.300000000000068" fill="url(#dotC)" stroke="#444" stroke-width="1"/>
<rect x="211.8" y="728.5" width="14.399999999999977" height="2.2000000000000455" fill="#2b2b2b" stroke="#2b2b2b" stroke-width="1"/>
<g stroke="#444" stroke-width="1.0" opacity="1"><line x1="190.3" y1="725.7" x2="190.3" y2="730"/><line x1="187.5" y1="725.7" x2="193.10000000000002" y2="725.7"/></g>
<g stroke="#444" stroke-width="1.0" opacity="1"><line x1="204.7" y1="721.9" x2="204.7" y2="725.4"/><g opacity="1"><line x1="204.7" y1="725.4" x2="204.7" y2="728.6" stroke-dasharray="2 0.7"/><line x1="201.89999999999998" y1="728.6" x2="207.5" y2="728.6"/></g><line x1="201.89999999999998" y1="721.9" x2="207.5" y2="721.9"/></g>
<rect x="43.7" y="603.2" width="194.2" height="127.5" fill="none" stroke="#8c8c8c" stroke-width="1.2"/>
<line x1="43.7" y1="730.7" x2="43.7" y2="733.1" stroke="#b5b5b5" stroke-width="1" />
<line x1="108.43333333333334" y1="730.7" x2="108.43333333333334" y2="733.1" stroke="#b5b5b5" stroke-width="1" />
<line x1="173.16666666666669" y1="730.7" x2="173.16666666666669" y2="733.1" stroke="#b5b5b5" stroke-width="1" />
<line x1="237.89999999999998" y1="730.7" x2="237.89999999999998" y2="733.1" stroke="#b5b5b5" stroke-width="1" />
<line x1="40.7" y1="730.7" x2="43.7" y2="730.7" stroke="#8c8c8c" stroke-width="1" />
<text x="38.6" y="734.4000000000001" font-size="10.5" text-anchor="end" fill="#111" >0</text>
<line x1="40.7" y1="700.4000000000001" x2="43.7" y2="700.4000000000001" stroke="#8c8c8c" stroke-width="1" />
<text x="38.6" y="704.1000000000001" font-size="10.5" text-anchor="end" fill="#111" >5</text>
<line x1="40.7" y1="670.1" x2="43.7" y2="670.1" stroke="#8c8c8c" stroke-width="1" />
<text x="38.6" y="673.8000000000001" font-size="10.5" text-anchor="end" fill="#111" >10</text>
<line x1="40.7" y1="639.8000000000001" x2="43.7" y2="639.8000000000001" stroke="#8c8c8c" stroke-width="1" />
<text x="38.6" y="643.5000000000001" font-size="10.5" text-anchor="end" fill="#111" >15</text>
<line x1="40.7" y1="609.5" x2="43.7" y2="609.5" stroke="#8c8c8c" stroke-width="1" />
<text x="38.6" y="613.2" font-size="10.5" text-anchor="end" fill="#111" >20</text>
<text x="75.9" y="745.7" font-size="10.7" text-anchor="middle" fill="#111" >P-selectin</text>
<text x="140.2" y="745.7" font-size="10.7" text-anchor="middle" fill="#111" >E-selectin</text>
<text x="205.3" y="745.7" font-size="10.7" text-anchor="middle" fill="#111" >L-selectin</text>
<line x1="276.8" y1="705.2" x2="471.3" y2="705.2" stroke="#d6d6d6" stroke-width="1" />
<line x1="276.8" y1="679.7" x2="471.3" y2="679.7" stroke="#d6d6d6" stroke-width="1" />
<line x1="276.8" y1="654.2" x2="471.3" y2="654.2" stroke="#d6d6d6" stroke-width="1" />
<line x1="276.8" y1="628.7" x2="471.3" y2="628.7" stroke="#d6d6d6" stroke-width="1" />
<line x1="276.8" y1="603.2" x2="471.3" y2="603.2" stroke="#d6d6d6" stroke-width="1" />
<rect x="287.5" y="623.3" width="14.399999999999977" height="107.40000000000009" fill="#fff" stroke="#444" stroke-width="1"/>
<rect x="301.9" y="631.3" width="14.400000000000034" height="99.40000000000009" fill="url(#dotC)" stroke="#444" stroke-width="1"/>
<rect x="316.3" y="650.8" width="14.399999999999977" height="79.90000000000009" fill="#2b2b2b" stroke="#2b2b2b" stroke-width="1"/>
<g stroke="#444" stroke-width="1.0" opacity="1"><line x1="294.6" y1="615.0" x2="294.6" y2="632.0"/><line x1="291.8" y1="632.0" x2="297.40000000000003" y2="632.0"/><line x1="291.8" y1="615.0" x2="297.40000000000003" y2="615.0"/></g>
<g stroke="#444" stroke-width="1.0" opacity="1"><line x1="308.9" y1="618.3" x2="308.9" y2="631.3"/><g opacity="1"><line x1="308.9" y1="631.3" x2="308.9" y2="644.5" stroke-dasharray="2 0.7"/><line x1="306.09999999999997" y1="644.5" x2="311.7" y2="644.5"/></g><line x1="306.09999999999997" y1="618.3" x2="311.7" y2="618.3"/></g>
<g stroke="#444" stroke-width="1.0" opacity="1"><line x1="323.3" y1="646.3" x2="323.3" y2="651.3"/><line x1="320.5" y1="646.3" x2="326.1" y2="646.3"/></g>
<rect x="352.0" y="657.5" width="14.399999999999977" height="73.20000000000005" fill="#fff" stroke="#444" stroke-width="1"/>
<rect x="366.4" y="672.5" width="14.400000000000034" height="58.200000000000045" fill="url(#dotC)" stroke="#444" stroke-width="1"/>
<rect x="380.8" y="673.3" width="14.399999999999977" height="57.40000000000009" fill="#2b2b2b" stroke="#2b2b2b" stroke-width="1"/>
<g stroke="#444" stroke-width="1.0" opacity="1"><line x1="359.3" y1="651.8" x2="359.3" y2="663.3"/><line x1="356.5" y1="663.3" x2="362.1" y2="663.3"/><line x1="356.5" y1="651.8" x2="362.1" y2="651.8"/></g>
<g stroke="#444" stroke-width="1.0" opacity="1"><line x1="373.4" y1="661.8" x2="373.4" y2="672.5"/><g opacity="1"><line x1="373.4" y1="672.5" x2="373.4" y2="683.0" stroke-dasharray="2 0.7"/><line x1="370.59999999999997" y1="683.0" x2="376.2" y2="683.0"/></g><line x1="370.59999999999997" y1="661.8" x2="376.2" y2="661.8"/></g>
<g stroke="#444" stroke-width="1.0" opacity="1"><line x1="387.7" y1="672.5" x2="387.7" y2="673.8"/><line x1="384.9" y1="672.5" x2="390.5" y2="672.5"/></g>
<rect x="416.8" y="706.8" width="14.399999999999977" height="23.90000000000009" fill="#fff" stroke="#444" stroke-width="1"/>
<rect x="431.2" y="701.8" width="14.400000000000034" height="28.90000000000009" fill="url(#dotC)" stroke="#444" stroke-width="1"/>
<rect x="445.6" y="685.8" width="14.399999999999977" height="44.90000000000009" fill="#2b2b2b" stroke="#2b2b2b" stroke-width="1"/>
<g stroke="#444" stroke-width="1.0" opacity="1"><line x1="423.9" y1="703.8" x2="423.9" y2="710.0"/><line x1="421.09999999999997" y1="710.0" x2="426.7" y2="710.0"/><line x1="421.09999999999997" y1="703.8" x2="426.7" y2="703.8"/></g>
<g stroke="#444" stroke-width="1.0" opacity="1"><line x1="438.7" y1="698.8" x2="438.7" y2="701.8"/><g opacity="1"><line x1="438.7" y1="701.8" x2="438.7" y2="705.0" stroke-dasharray="2 0.7"/><line x1="435.9" y1="705.0" x2="441.5" y2="705.0"/></g><line x1="435.9" y1="698.8" x2="441.5" y2="698.8"/></g>
<g stroke="#444" stroke-width="1.0" opacity="1"><line x1="453.0" y1="654.5" x2="453.0" y2="686.3"/><line x1="450.2" y1="654.5" x2="455.8" y2="654.5"/></g>
<rect x="276.8" y="603.2" width="194.5" height="127.5" fill="none" stroke="#8c8c8c" stroke-width="1.2"/>
<line x1="471.3" y1="603.2" x2="471.3" y2="732.2" stroke="#adadad" stroke-width="2.2" />
<line x1="276.8" y1="730.7" x2="276.8" y2="733.1" stroke="#b5b5b5" stroke-width="1" />
<line x1="341.6333333333333" y1="730.7" x2="341.6333333333333" y2="733.1" stroke="#b5b5b5" stroke-width="1" />
<line x1="406.4666666666667" y1="730.7" x2="406.4666666666667" y2="733.1" stroke="#b5b5b5" stroke-width="1" />
<line x1="471.3" y1="730.7" x2="471.3" y2="733.1" stroke="#b5b5b5" stroke-width="1" />
<line x1="471.3" y1="730.7" x2="473.90000000000003" y2="730.7" stroke="#b5b5b5" stroke-width="1" />
<text x="476.0" y="734.9000000000001" font-size="10.2" text-anchor="start" fill="#111" >0</text>
<line x1="471.3" y1="705.2" x2="473.90000000000003" y2="705.2" stroke="#b5b5b5" stroke-width="1" />
<text x="476.0" y="709.4000000000001" font-size="10.2" text-anchor="start" fill="#111" >200</text>
<line x1="471.3" y1="679.7" x2="473.90000000000003" y2="679.7" stroke="#b5b5b5" stroke-width="1" />
<text x="476.0" y="683.9000000000001" font-size="10.2" text-anchor="start" fill="#111" >400</text>
<line x1="471.3" y1="654.2" x2="473.90000000000003" y2="654.2" stroke="#b5b5b5" stroke-width="1" />
<text x="476.0" y="658.4000000000001" font-size="10.2" text-anchor="start" fill="#111" >600</text>
<line x1="471.3" y1="628.7" x2="473.90000000000003" y2="628.7" stroke="#b5b5b5" stroke-width="1" />
<text x="476.0" y="632.9000000000001" font-size="10.2" text-anchor="start" fill="#111" >800</text>
<line x1="471.3" y1="603.2" x2="473.90000000000003" y2="603.2" stroke="#b5b5b5" stroke-width="1" />
<text x="476.0" y="607.4000000000001" font-size="10.2" text-anchor="start" fill="#111" >1000</text>
<text x="310.2" y="745.7" font-size="10.7" text-anchor="middle" fill="#111" >P-selectin</text>
<text x="374.4" y="745.7" font-size="10.7" text-anchor="middle" fill="#111" >E-selectin</text>
<text x="439.6" y="745.7" font-size="10.7" text-anchor="middle" fill="#111" >L-selectin</text>
<text transform="translate(16.0,716.9) rotate(-90)" font-size="18.3" textLength="261" lengthAdjust="spacingAndGlyphs" fill="#111">% of cells binding selectins</text>
<text transform="translate(504.8,486.0) rotate(90)" font-size="18.0" textLength="205.6" lengthAdjust="spacingAndGlyphs" fill="#111">Relative fluorescence</text>
</svg></body></html>
